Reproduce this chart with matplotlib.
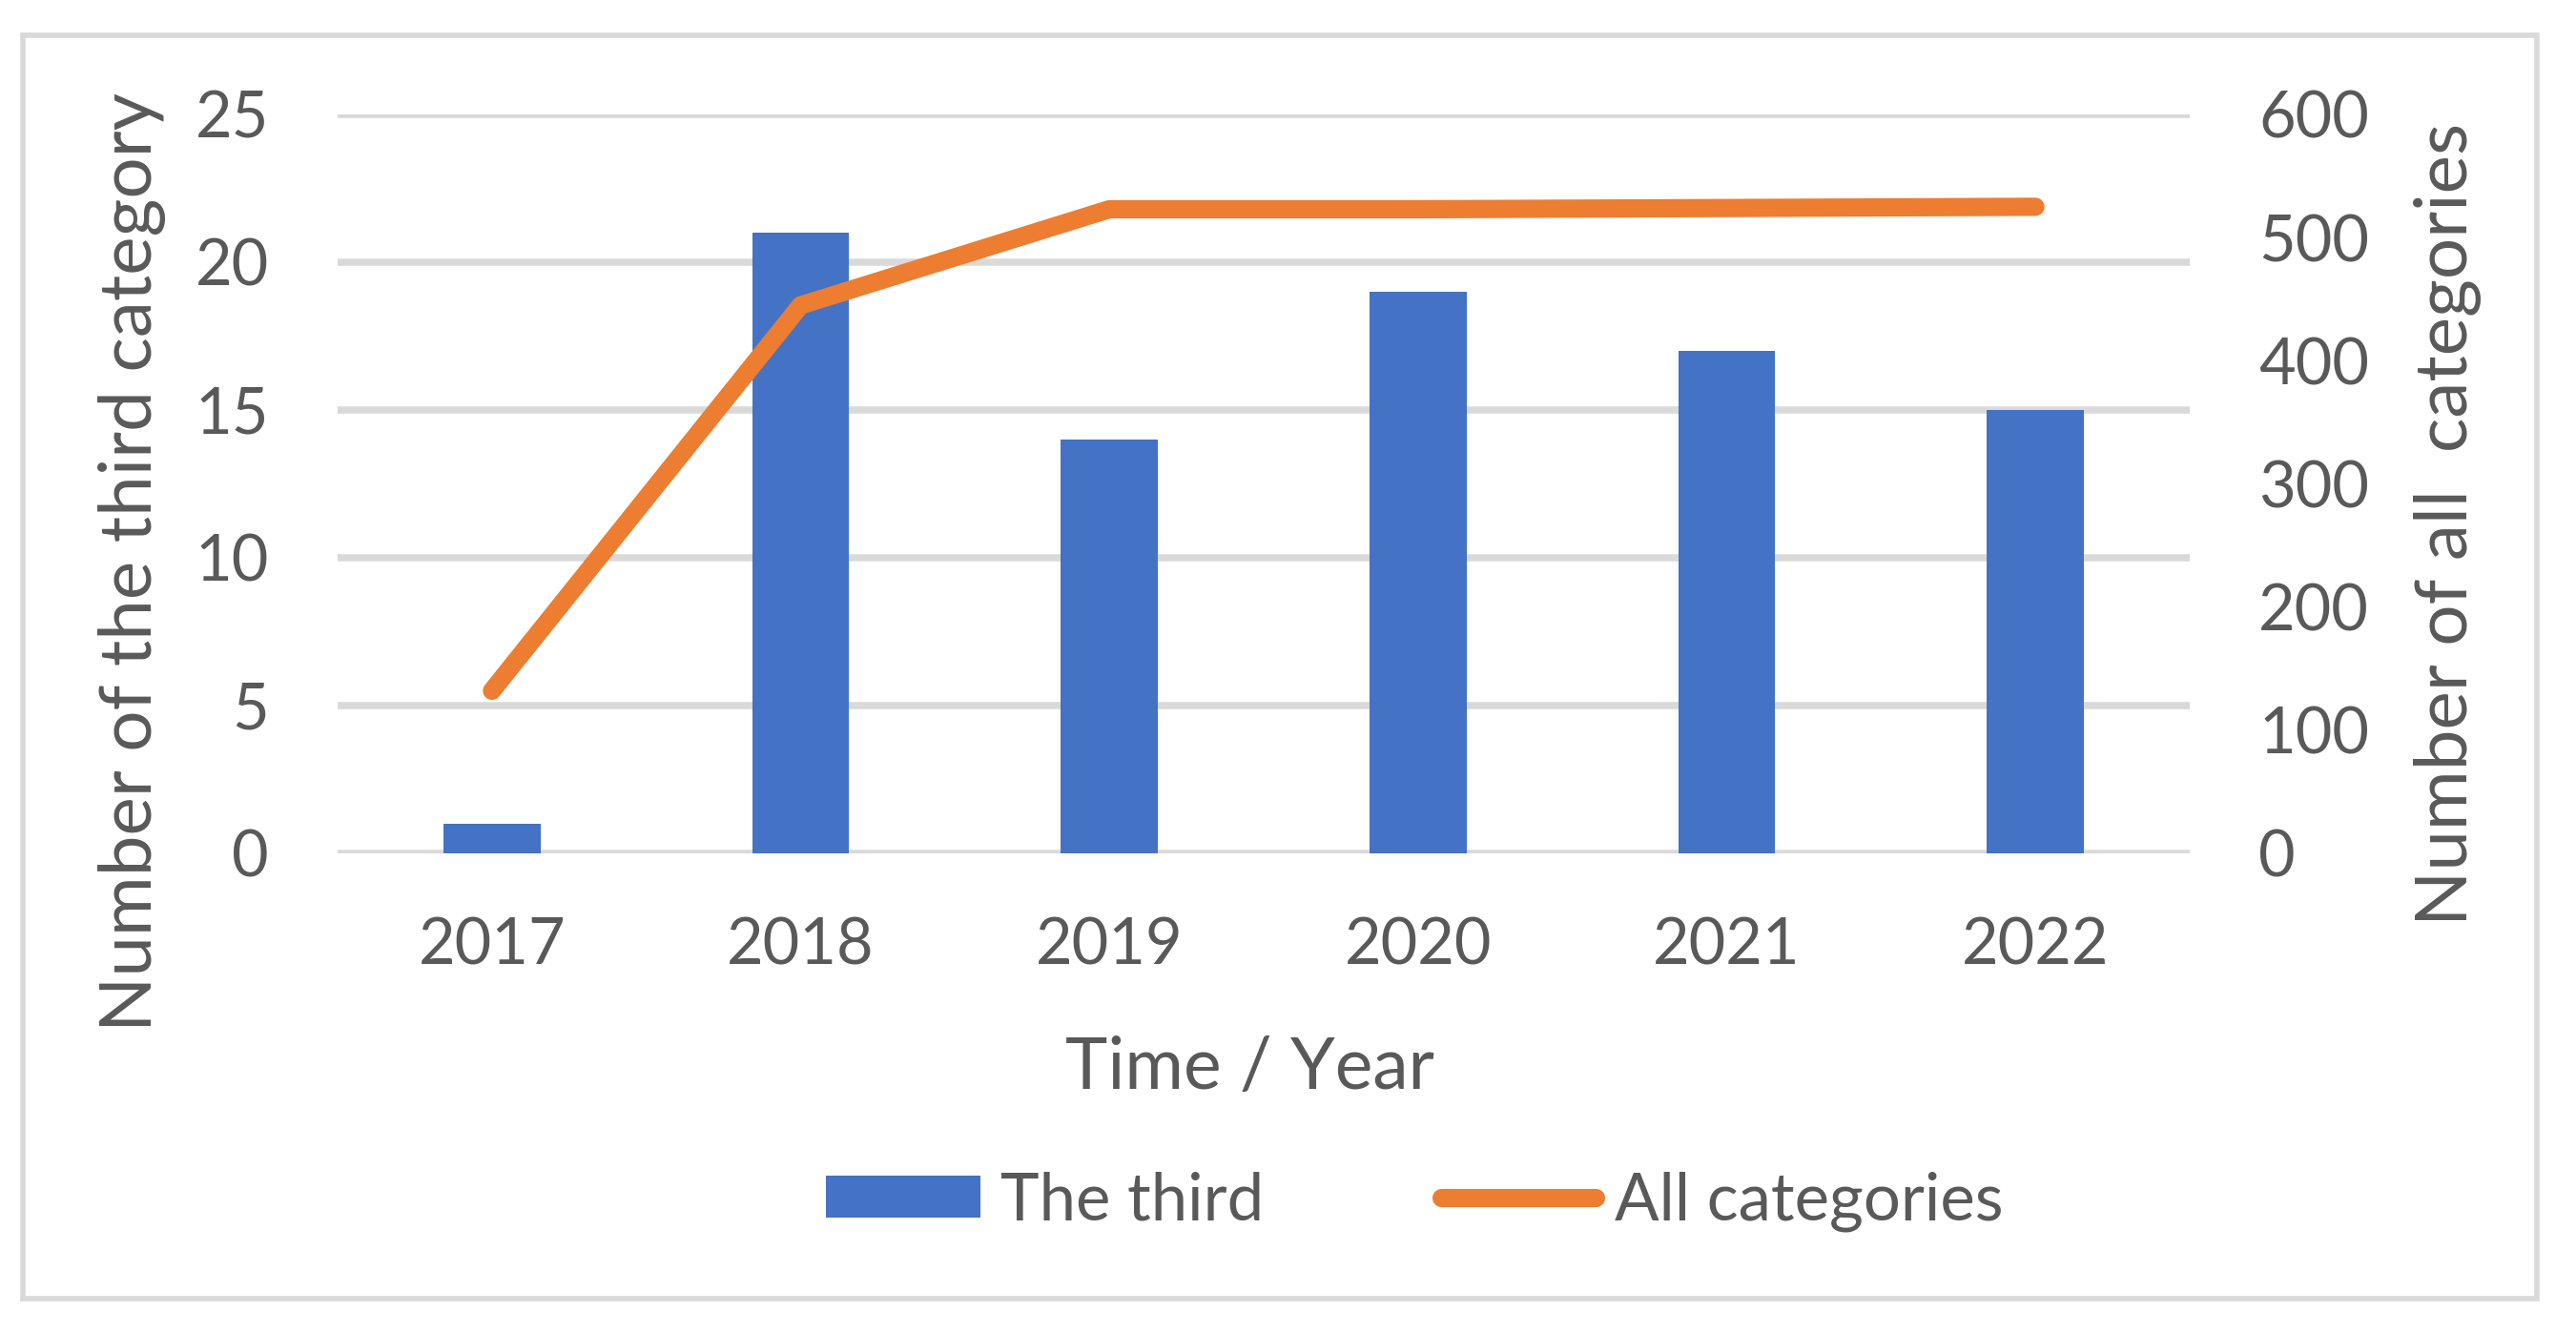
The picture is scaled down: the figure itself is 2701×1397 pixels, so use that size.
import numpy as np
import matplotlib
matplotlib.use('Agg')
import matplotlib.pyplot as plt
from matplotlib.patches import Rectangle

plt.rcParams['font.family'] = ['Lato', 'DejaVu Sans']

# data
years = ['2017', '2018', '2019', '2020', '2021', '2022']
third_counts = [1, 21, 14, 19, 17, 15]
all_counts = [132, 445, 523, 523, 524, 525]

bar_color = '#4472C4'
line_color = '#ED7D31'
text_color = '#595959'
grid_color = '#D9D9D9'

W, H = 2701, 1397
fig = plt.figure(figsize=(W / 200, H / 200), dpi=200)

# chart-area border like Excel
fig.patches.append(Rectangle((24 / W, 1 - 1362 / H), (2660 - 24) / W, (1362 - 37) / H,
                             transform=fig.transFigure, fill=False,
                             edgecolor=grid_color, linewidth=2.0, zorder=0))

ax1 = fig.add_axes([354 / W, 1 - 895 / H, (2296 - 354) / W, (895 - 120) / H])
x = np.arange(len(years))

bars = ax1.bar(x, third_counts, width=0.315, color=bar_color, zorder=2, label='The third')
ax1.set_xlim(-0.5, len(years) - 0.5)
ax1.set_ylim(0, 25)
ax1.set_yticks(np.arange(0, 26, 5))
ax1.set_xticks(x)
ax1.set_xticklabels(years)
ax1.set_axisbelow(True)
ax1.yaxis.grid(True, color=grid_color, linewidth=2.7)
ax1.tick_params(axis='both', length=0, labelsize=24, labelcolor=text_color)
ax1.tick_params(axis='y', pad=26)
ax1.tick_params(axis='x', pad=24)
for s in ax1.spines.values():
    s.set_visible(False)

ax2 = ax1.twinx()
line, = ax2.plot(x, all_counts, color=line_color, linewidth=6.9,
                 solid_capstyle='round', solid_joinstyle='round', label='All categories')
ax2.set_ylim(0, 600)
ax2.set_yticks(np.arange(0, 601, 100))
ax2.tick_params(axis='y', length=0, labelsize=24, labelcolor=text_color, pad=26)
for s in ax2.spines.values():
    s.set_visible(False)

# axis titles
fig.text(139 / W, 1 - 590 / H, 'Number of the third category', rotation=90,
         ha='center', va='center', fontsize=27.5, color=text_color)
fig.text(2567 / W, 1 - 550 / H, 'Number of all  categories', rotation=90,
         ha='center', va='center', fontsize=27.5, color=text_color)
fig.text(1310 / W, 1 - 1142 / H, 'Time / Year', ha='center', va='baseline',
         fontsize=27, color=text_color)

leg = fig.legend(handles=[bars, line], loc='center left',
                 bbox_to_anchor=(866 / W, 1 - 1260 / H), ncol=2, frameon=False,
                 fontsize=24.8, handlelength=2.35, handleheight=0.62,
                 handletextpad=0.3, columnspacing=2.7, borderpad=0, borderaxespad=0)
for t in leg.get_texts():
    t.set_color(text_color)

fig.savefig('out.png', dpi=200, facecolor='white')
